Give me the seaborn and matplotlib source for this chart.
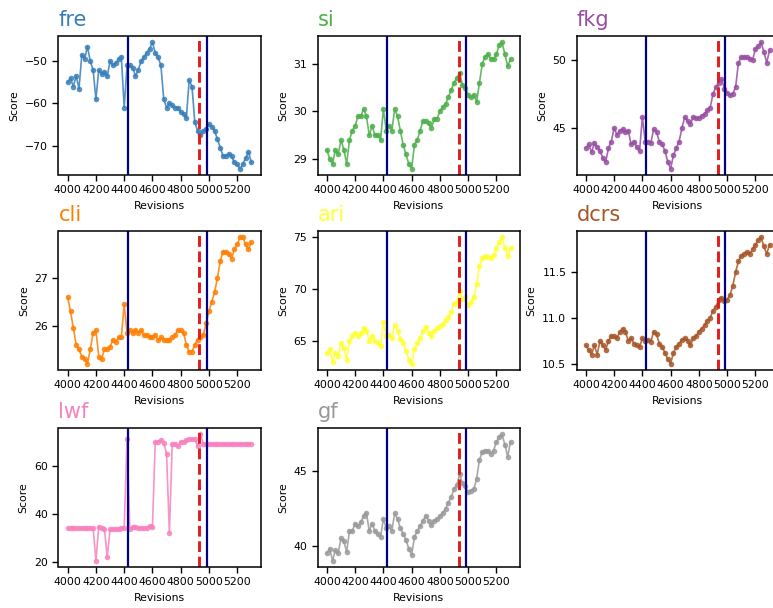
import matplotlib
matplotlib.use("Agg")
import matplotlib.pyplot as plt
import seaborn as sns
from matplotlib.ticker import MultipleLocator

# readability scores per revision (every 20 revisions)
revisions = list(range(4000, 5301, 20))

fre = [-55, -54, -56, -53.5, -56.5, -48.5, -49.5, -46.5, -50, -52,
       -59, -52, -53, -52.5, -53.5, -50, -51, -50.5, -49.5, -49,
       -61, -51, -51, -51.5, -53.5, -52, -50, -49, -48, -47,
       -45.5, -48, -49, -51, -59, -61, -60, -60.5, -61, -61,
       -62, -62.5, -63.5, -54.5, -56, -64.5, -66.5, -67.5, -66.5, -66,
       -65, -65.5, -66.5, -68.5, -70.5, -72.5, -72.5, -72, -72.5, -74,
       -74.5, -75.5, -74.5, -73, -71.5, -74]
si = [29.2, 29.0, 28.9, 29.2, 29.1, 29.4, 29.2, 28.9, 29.4, 29.6,
      29.7, 29.9, 29.9, 30.05, 29.9, 29.5, 29.7, 29.5, 29.5, 29.4,
      30.05, 29.6, 29.7, 29.6, 30.05, 29.9, 29.6, 29.3, 29.1, 28.9,
      28.8, 29.3, 29.4, 29.6, 29.8, 29.8, 29.75, 29.65, 29.85, 29.85,
      30.0, 30.1, 30.15, 30.3, 30.45, 30.6, 30.7, 30.8, 30.55, 30.5,
      30.35, 30.3, 30.35, 30.2, 30.6, 31.0, 31.15, 31.2, 31.1, 31.1,
      31.2, 31.4, 31.45, 31.2, 30.95, 31.1]
fkg = [43.5, 43.8, 43.2, 43.9, 43.6, 43.3, 42.8, 42.5, 43.5, 44.0,
       45.0, 44.5, 44.8, 44.9, 44.7, 44.8, 43.8, 44.0, 43.6, 43.3,
       45.8, 44.0, 44.0, 43.9, 44.9, 44.7, 44.0, 43.8, 43.3, 42.5,
       42.0, 43.0, 43.5, 44.0, 45.0, 45.8, 45.5, 45.3, 45.8, 45.7,
       45.7, 45.9, 46.0, 46.3, 46.5, 47.5, 48.0, 48.3, 48.6, 47.9,
       47.6, 47.4, 47.5, 48.0, 49.8, 50.2, 50.2, 50.2, 50.1, 50.0,
       50.8, 51.0, 51.3, 50.6, 49.8, 50.7]
cli = [26.6, 26.3, 25.95, 25.6, 25.5, 25.35, 25.3, 25.2, 25.5, 25.85,
       25.9, 25.35, 25.3, 25.5, 25.5, 25.55, 25.7, 25.65, 25.75, 25.75,
       26.45, 25.85, 25.9, 25.85, 25.9, 25.85, 25.9, 25.8, 25.8, 25.75,
       25.75, 25.8, 25.7, 25.75, 25.7, 25.7, 25.7, 25.75, 25.8, 25.9,
       25.9, 25.85, 25.6, 25.45, 25.45, 25.6, 25.7, 25.75, 25.8, 26.05,
       26.3, 26.5, 26.7, 27.0, 27.35, 27.55, 27.55, 27.5, 27.4, 27.6,
       27.7, 27.85, 27.85, 27.7, 27.6, 27.75]
ari = [63.8, 64.2, 63.0, 63.8, 63.5, 64.8, 64.3, 63.2, 65.0, 65.5,
       65.8, 65.5, 65.8, 66.2, 66.0, 65.0, 65.5, 65.0, 64.8, 64.5,
       66.8, 65.5, 65.6, 65.3, 66.5, 66.0, 65.2, 64.8, 64.0, 63.2,
       62.8, 64.2, 64.8, 65.3, 66.0, 66.3, 65.8, 65.5, 66.0, 66.2,
       66.4, 66.6, 67.0, 67.3, 67.8, 68.6, 68.8, 69.8, 69.0, 69.2,
       68.5, 68.8, 69.2, 70.5, 72.2, 73.0, 73.2, 73.1, 73.0, 73.3,
       74.0, 74.5, 75.0, 74.0, 73.2, 74.0]
dcrs = [10.7, 10.65, 10.6, 10.7, 10.6, 10.75, 10.7, 10.65, 10.75, 10.8,
        10.8, 10.78, 10.85, 10.88, 10.85, 10.75, 10.78, 10.72, 10.7, 10.68,
        10.78, 10.75, 10.76, 10.74, 10.85, 10.82, 10.72, 10.68, 10.62, 10.55,
        10.5, 10.62, 10.68, 10.72, 10.76, 10.78, 10.75, 10.7, 10.78, 10.8,
        10.85, 10.88, 10.92, 10.97, 11.0, 11.08, 11.12, 11.2, 11.22, 11.18,
        11.2, 11.25, 11.35, 11.5, 11.62, 11.68, 11.7, 11.72, 11.7, 11.75,
        11.8, 11.85, 11.88, 11.78, 11.7, 11.8]
lwf = [34, 34, 34, 34, 34, 34, 34, 34, 34, 34,
       20.5, 34.5, 34.2, 33.8, 22, 33.5, 33.5, 33.5, 33.8, 34,
       34, 71, 33.5, 34.5, 34.5, 34, 34, 34, 34, 35,
       34.5, 70, 70, 70.5, 69.5, 65, 32, 69, 69, 68,
       70, 70, 70.5, 71, 71, 71, 68, 73, 69, 69,
       69, 69, 69, 69, 69, 69, 69, 69, 69, 69,
       69, 69, 69, 69, 69, 69]
gf = [39.5, 39.8, 39.0, 39.7, 39.5, 40.5, 40.3, 39.6, 41.0, 41.0,
      41.5, 41.3, 41.6, 42.0, 42.2, 41.0, 41.5, 41.0, 40.8, 40.6,
      41.8, 41.2, 41.3, 41.0, 42.2, 41.8, 41.2, 40.8, 40.4, 39.8,
      39.4, 40.6, 41.0, 41.3, 41.7, 42.0, 41.7, 41.4, 41.7, 41.8,
      42.0, 42.2, 42.5, 42.9, 43.3, 43.8, 44.1, 44.8, 44.2, 44.0,
      43.6, 43.7, 43.8, 44.5, 45.8, 46.3, 46.4, 46.4, 46.2, 46.4,
      47.0, 47.3, 47.5, 46.8, 46.0, 47.0]

names = ['fre', 'si', 'fkg', 'cli', 'ari', 'dcrs', 'lwf', 'gf']
series = [fre, si, fkg, cli, ari, dcrs, lwf, gf]
ysteps = [10, 1, 5, 1, 5, 0.5, 20, 5]

release_revs = [4425, 4985]   # solid navy
branch_rev = 4932             # dashed red

sns.set_theme(style="ticks")
plt.rcParams.update({'text.color': 'black', 'axes.labelcolor': 'black',
                     'xtick.color': 'black', 'ytick.color': 'black',
                     'axes.edgecolor': 'black'})
colors = sns.color_palette("Set1", 9)[1:]

W, H = 773, 608
fig = plt.figure(figsize=(W / 100, H / 100), dpi=100)

col_left = [58.5, 317.7, 576.7]
row_top = [36, 231, 428]
aw, ah = 202, 139

for i, (name, vals) in enumerate(zip(names, series)):
    r, c = divmod(i, 3)
    ax = fig.add_axes([col_left[c] / W, 1 - (row_top[r] + ah) / H, aw / W, ah / H])
    sns.lineplot(x=revisions, y=vals, ax=ax, color=colors[i], marker='o',
                 markersize=4, markeredgewidth=0, linewidth=1.2, alpha=0.85)
    for rv in release_revs:
        ax.axvline(rv, color='darkblue', lw=1.6)
    ax.axvline(branch_rev, color='#e41a1c', lw=2.1, ls='--')
    ax.set_title(name, loc='left', color=colors[i], fontsize=15, pad=7)
    ax.set_xlabel('Revisions', fontsize=7.8)
    ax.set_ylabel('Score', fontsize=7.8)
    ax.xaxis.set_major_locator(MultipleLocator(200))
    ax.yaxis.set_major_locator(MultipleLocator(ysteps[i]))
    ax.tick_params(labelsize=7.8, length=4, width=1)
    for s in ax.spines.values():
        s.set_linewidth(1.1)

fig.savefig("out.png", dpi=100)
